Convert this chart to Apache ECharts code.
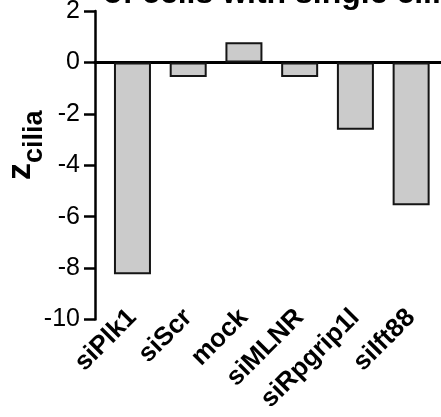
<!DOCTYPE html>
<html>
<head>
<meta charset="utf-8">
<script src="https://cdn.jsdelivr.net/npm/echarts@6/dist/echarts.min.js"></script>
<style>
  html, body { margin: 0; padding: 0; background: #ffffff; }
  #chart { width: 441px; height: 417px; }
</style>
</head>
<body>
<div id="chart"></div>
<script>
// siRNA conditions and their cilia z-scores
const categories = ['siPlk1', 'siScr', 'mock', 'siMLNR', 'siRpgrip1l', 'siIft88'];
const zValues = [-8.24, -0.57, 0.78, -0.57, -2.62, -5.56];

// value-axis range and step
const yMin = -10;
const yMax = 2;
const yStep = 2;

const titleText = 'of cells with single cilia';
const FONT = "'Liberation Sans', Arial, Helvetica, sans-serif";

const chart = echarts.init(document.getElementById('chart'), null, { renderer: 'canvas' });

const gridTop = 11;
const gridBottom = 97.5;

chart.setOption({
  animation: false,
  backgroundColor: '#ffffff',
  textStyle: { fontFamily: FONT },
  graphic: [{
    type: 'text',
    left: 103,
    top: -22,
    style: {
      text: titleText,
      font: 'bold 32px ' + FONT,
      fill: '#000000'
    }
  }],
  grid: [
    { left: 104.6, right: 2, top: gridTop, bottom: gridBottom, containLabel: false, outerBoundsMode: 'none' },
    { left: 95, right: 0, top: gridTop, bottom: gridBottom, containLabel: false, outerBoundsMode: 'none' }
  ],
  xAxis: [
    {
      type: 'category',
      gridIndex: 0,
      data: categories,
      axisLine: { show: false, onZero: false },
      axisTick: { show: false },
      splitLine: { show: false },
      axisLabel: {
        interval: 0,
        rotate: 45,
        margin: -6,
        color: '#000000',
        fontFamily: FONT,
        fontWeight: 'bold',
        fontSize: 26
      }
    },
    {
      // zero baseline running from the value axis to the right edge
      type: 'value',
      gridIndex: 1,
      min: 0,
      max: 1,
      axisLine: { show: true, onZero: true, lineStyle: { color: '#000000', width: 3 } },
      axisTick: { show: false },
      axisLabel: { show: false },
      splitLine: { show: false }
    }
  ],
  yAxis: [
    {
      type: 'value',
      gridIndex: 0,
      min: yMin,
      max: yMax,
      interval: yStep,
      offset: 9.6,
      name: '{z|z}{c|cilia}',
      nameLocation: 'middle',
      nameRotate: 90,
      nameGap: 47,
      nameMoveOverlap: false,
      nameTextStyle: {
        rich: {
          z: { fontFamily: FONT, fontWeight: 'bold', fontSize: 34, color: '#000', verticalAlign: 'bottom', padding: [0, 0, 10, 40] },
          c: { fontFamily: FONT, fontWeight: 'bold', fontSize: 27, color: '#000', verticalAlign: 'bottom' }
        }
      },
      axisLine: { show: true, lineStyle: { color: '#000000', width: 2.5 } },
      axisTick: { show: true, length: 11, lineStyle: { color: '#000000', width: 2.5 } },
      axisLabel: {
        margin: 15,
        color: '#000000',
        fontFamily: FONT,
        fontSize: 25
      },
      splitLine: { show: false }
    },
    {
      type: 'value',
      gridIndex: 1,
      min: yMin,
      max: yMax,
      interval: yStep,
      show: false
    }
  ],
  series: [{
    type: 'bar',
    xAxisIndex: 0,
    yAxisIndex: 0,
    data: zValues,
    barWidth: 37,
    itemStyle: {
      color: '#cbcbcb',
      borderColor: '#151515',
      borderWidth: 2
    }
  }]
});
</script>
</body>
</html>
